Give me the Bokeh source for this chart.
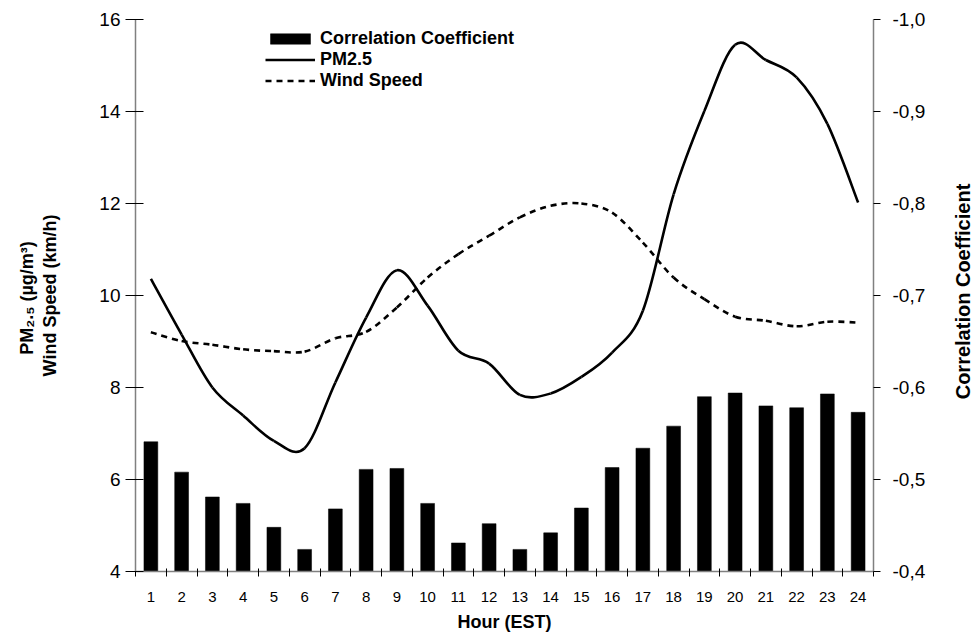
import numpy as np
from bokeh.plotting import figure
from bokeh.models import (Range1d, LinearAxis, FixedTicker, CustomJSTickFormatter,
                          Legend, LegendItem, ColumnDataSource, Label)
from bokeh.embed import file_html
from bokeh.resources import INLINE

# Hourly profile (EST)
hours = list(range(1, 25))
hour_ticks = [str(h) for h in hours]

# Correlation coefficient between PM2.5 and wind speed, per hour
corr = [-0.541, -0.508, -0.481, -0.474, -0.448, -0.424, -0.468, -0.511,
        -0.512, -0.474, -0.431, -0.452, -0.424, -0.442, -0.469, -0.513,
        -0.534, -0.558, -0.590, -0.594, -0.580, -0.578, -0.593, -0.573]

# Mean PM2.5 concentration (ug/m3)
pm25 = [10.36, 9.15, 8.00, 7.39, 6.84, 6.68, 8.11, 9.52,
        10.55, 9.78, 8.80, 8.52, 7.84, 7.87, 8.23, 8.76,
        9.67, 12.20, 14.01, 15.45, 15.12, 14.74, 13.73, 12.02]

# Mean wind speed (km/h)
wind = [9.20, 9.01, 8.93, 8.83, 8.79, 8.78, 9.07, 9.21,
        9.74, 10.39, 10.90, 11.30, 11.70, 11.95, 12.00, 11.80,
        11.15, 10.39, 9.92, 9.54, 9.45, 9.33, 9.43, 9.41]

left_ticks = [4, 6, 8, 10, 12, 14, 16]
right_ticks = [-1.0, -0.9, -0.8, -0.7, -0.6, -0.5, -0.4]

FONT = "Liberation Sans"


def smooth_segments(xs, ys):
    """Catmull-Rom style Bezier control points for a smoothed line."""
    x = np.asarray(xs, float)
    y = np.asarray(ys, float)
    n = len(x)
    xp = np.concatenate([[x[0]], x, [x[-1]]])
    yp = np.concatenate([[y[0]], y, [y[-1]]])
    return dict(
        x0=x[:-1], y0=y[:-1], x1=x[1:], y1=y[1:],
        cx0=x[:-1] + (xp[2:n + 1] - xp[0:n - 1]) / 6.0,
        cy0=y[:-1] + (yp[2:n + 1] - yp[0:n - 1]) / 6.0,
        cx1=x[1:] - (xp[3:n + 2] - xp[1:n]) / 6.0,
        cy1=y[1:] - (yp[3:n + 2] - yp[1:n]) / 6.0,
    )


p = figure(width=978, height=638, output_backend="svg", toolbar_location=None,
           x_range=Range1d(0.5, 24.5), y_range=Range1d(4, 16),
           min_border_left=135, min_border_right=105,
           min_border_top=19, min_border_bottom=67)
p.outline_line_color = None
p.grid.visible = False
p.background_fill_color = "white"
p.border_fill_color = "white"

# secondary (inverted) scale for the correlation bars
p.extra_y_ranges = {"cc": Range1d(-0.4, -1.0)}

bars = p.vbar(x=hours, top=corr, bottom=-0.4, width=0.45, y_range_name="cc",
              fill_color="black", line_color="black", line_width=0.5)

pm_src = ColumnDataSource(smooth_segments(hours, pm25))
wd_src = ColumnDataSource(smooth_segments(hours, wind))
pm_line = p.bezier(x0="x0", y0="y0", x1="x1", y1="y1", cx0="cx0", cy0="cy0",
                   cx1="cx1", cy1="cy1", source=pm_src, line_color="black",
                   line_width=2.6)
wd_line = p.bezier(x0="x0", y0="y0", x1="x1", y1="y1", cx0="cx0", cy0="cy0",
                   cx1="cx1", cy1="cy1", source=wd_src, line_color="black",
                   line_width=2.6, line_dash="6 5")


def style_axis(ax, tick_size):
    ax.axis_line_color = "#808080"
    ax.axis_line_width = 1.5
    ax.major_tick_line_color = "black"
    ax.minor_tick_line_color = None
    ax.major_label_text_font = FONT
    ax.major_label_text_font_size = tick_size
    ax.major_label_text_color = "black"
    ax.axis_label_text_font = FONT
    ax.axis_label_text_font_style = "bold"
    ax.axis_label_text_color = "black"


def title_axis(text, standoff, size):
    """A bare left axis (no line, no ticks) that only carries a title."""
    ax = LinearAxis(ticker=FixedTicker(ticks=[]))
    ax.axis_line_color = None
    ax.major_tick_line_color = None
    ax.minor_tick_line_color = None
    ax.major_tick_out = 0
    ax.major_tick_in = 0
    ax.major_label_standoff = 0
    ax.major_label_text_font_size = "0px"
    ax.axis_label = text
    ax.axis_label_standoff = standoff
    ax.axis_label_text_font = FONT
    ax.axis_label_text_font_style = "bold"
    ax.axis_label_text_font_size = size
    ax.axis_label_text_color = "black"
    return ax


# x axis: labels at hour centres, tick marks between hours
xa = p.xaxis[0]
style_axis(xa, "15px")
xa.ticker = FixedTicker(ticks=hours, minor_ticks=[h + 0.5 for h in [0] + hours])
xa.major_label_overrides = {h: t for h, t in zip(hours, hour_ticks)}
xa.major_tick_out = 0
xa.major_tick_in = 0
xa.minor_tick_out = 5
xa.minor_tick_in = 3
xa.minor_tick_line_color = "black"
xa.major_label_standoff = 15
xa.axis_label = "Hour (EST)"
xa.axis_label_text_font_size = "18px"
xa.axis_label_standoff = 7

# left axis: PM2.5 / wind speed
ya = p.yaxis[0]
style_axis(ya, "19px")
ya.ticker = FixedTicker(ticks=left_ticks)
ya.major_tick_out = 10
ya.major_tick_in = 8
ya.major_label_standoff = 5

# two-line left title, one bare axis per line
p.add_layout(title_axis("Wind Speed (km/h)", 37, "18px"), "left")
p.add_layout(title_axis("PM\u2082.\u2085  (\u00b5g/m\u00b3)", 0, "18px"), "left")

# right axis: correlation coefficient, decimal comma
ra = LinearAxis(y_range_name="cc", ticker=FixedTicker(ticks=right_ticks),
                formatter=CustomJSTickFormatter(
                    code="return tick.toFixed(1).replace('.', ',');"))
style_axis(ra, "19px")
ra.major_tick_out = 7
ra.major_tick_in = 0
ra.major_label_standoff = 12
p.add_layout(ra, "right")

# right title reading upwards, placed in the right-hand side panel
p.add_layout(Label(x=34, y=280, x_units="screen", y_units="screen",
                   angle=np.pi / 2, text="Correlation Coefficient",
                   text_font=FONT, text_font_style="bold", text_font_size="20px",
                   text_color="black", text_align="center",
                   text_baseline="middle"), "right")

legend = Legend(items=[
    LegendItem(label="Correlation Coefficient", renderers=[bars]),
    LegendItem(label="PM2.5", renderers=[pm_line]),
    LegendItem(label="Wind Speed", renderers=[wd_line]),
], location=(130, 480))
legend.border_line_color = None
legend.background_fill_alpha = 0
legend.padding = 0
legend.margin = 0
legend.spacing = 0
legend.glyph_width = 50
legend.glyph_height = 13
legend.label_height = 20
legend.label_standoff = 5
legend.label_text_font = FONT
legend.label_text_font_style = "bold"
legend.label_text_font_size = "18px"
legend.label_text_color = "black"
p.add_layout(legend)

open("out.html", "w").write(file_html(p, INLINE))
